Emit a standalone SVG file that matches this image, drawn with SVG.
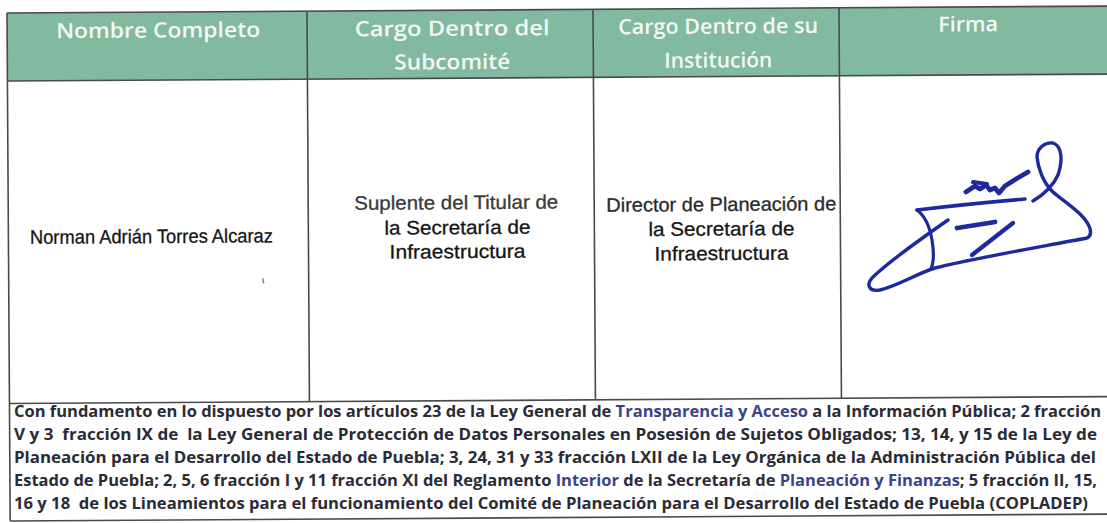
<svg xmlns="http://www.w3.org/2000/svg" width="1107" height="523" viewBox="0 0 1107 523">
  <style>
    .hdr { font-family: "Open Sans", Lato, "Liberation Sans", sans-serif; font-weight: 600; font-size: 21px; fill: #f3f8f3; text-anchor: middle; }
    .cell { font-family: "Liberation Sans", Arial, sans-serif; font-size: 19.5px; fill: #151515; stroke: #151515; stroke-width: 0.3; text-anchor: middle; }
    .foot { font-family: "Open Sans", Lato, "Liberation Sans", sans-serif; font-weight: bold; font-size: 15.2px; fill: #2b2b36; }
    .blue { fill: #39448a; }
    .rule { stroke: #4a4a4a; stroke-width: 1.6; fill: none; }
    .sig { stroke: #1d2a9e; fill: none; stroke-linecap: round; stroke-linejoin: round; }
  </style>
  <rect width="1107" height="523" fill="#ffffff"/>
  <g id="table" transform="rotate(-0.36 7 13)">
    <rect id="header-band" x="7" y="13" width="1120" height="68" fill="#82b9a1"/>
    <g id="grid">
      <line class="rule" x1="7" y1="13" x2="1127" y2="13"/>
      <line class="rule" x1="7" y1="81" x2="1127" y2="81"/>
      <line class="rule" x1="7" y1="403.5" x2="1127" y2="403.5" stroke-width="2"/>
      <line class="rule" x1="7" y1="521" x2="1127" y2="521"/>
      <line class="rule" x1="7" y1="13" x2="7" y2="521"/>
      <line class="rule" x1="307" y1="13" x2="307" y2="403.5"/>
      <line class="rule" x1="593" y1="13" x2="593" y2="403.5"/>
      <line class="rule" x1="839" y1="13" x2="839" y2="403.5"/>
    </g>
    <g id="h-nombre"><text class="hdr" x="158" y="38.5" textLength="204" lengthAdjust="spacingAndGlyphs">Nombre Completo</text></g>
    <g id="h-cargo-sub">
      <text class="hdr" x="452" y="38.5" textLength="195" lengthAdjust="spacingAndGlyphs">Cargo Dentro del</text>
      <text class="hdr" x="452" y="72" textLength="116" lengthAdjust="spacingAndGlyphs">Subcomité</text>
    </g>
    <g id="h-cargo-inst">
      <text class="hdr" x="718" y="38" textLength="200" lengthAdjust="spacingAndGlyphs">Cargo Dentro de su</text>
      <text class="hdr" x="718" y="72" textLength="108" lengthAdjust="spacingAndGlyphs">Institución</text>
    </g>
    <g id="h-firma"><text class="hdr" x="968" y="37.5" textLength="60" lengthAdjust="spacingAndGlyphs">Firma</text></g>

    <g id="c-nombre"><text class="cell" x="150" y="244" textLength="243" lengthAdjust="spacingAndGlyphs">Norman Adrián Torres Alcaraz</text></g>
    <g id="c-cargo-sub">
      <text class="cell" x="455" y="212" textLength="204" lengthAdjust="spacingAndGlyphs" style="fill:#3a3a3a;stroke:#3a3a3a">Suplente del Titular de</text>
      <text class="cell" x="456" y="237" textLength="146" lengthAdjust="spacingAndGlyphs">la Secretaría de</text>
      <text class="cell" x="456" y="261" textLength="136" lengthAdjust="spacingAndGlyphs">Infraestructura</text>
    </g>
    <g id="c-cargo-inst">
      <text class="cell" x="720" y="215.5" textLength="230" lengthAdjust="spacingAndGlyphs" style="fill:#2a2a2a;stroke:#2a2a2a">Director de Planeación de</text>
      <text class="cell" x="720" y="240" textLength="146" lengthAdjust="spacingAndGlyphs">la Secretaría de</text>
      <text class="cell" x="720" y="264.5" textLength="134" lengthAdjust="spacingAndGlyphs">Infraestructura</text>
    </g>
    <line x1="261" y1="280" x2="262" y2="285" stroke="#b07050" stroke-width="1.5"/>
  </g>

  <g id="footer">
    <text class="foot" x="14" y="417" textLength="1087" lengthAdjust="spacingAndGlyphs" xml:space="preserve">Con fundamento en lo dispuesto por los artículos 23 de la Ley General de <tspan class="blue">Transparencia y Acceso</tspan> a la Información Pública; 2 fracción</text>
    <text class="foot" x="14" y="440" textLength="1083" lengthAdjust="spacingAndGlyphs" xml:space="preserve">V y 3  fracción IX de  la Ley General de Protección de Datos Personales en Posesión de Sujetos Obligados; 13, 14, y 15 de la Ley de</text>
    <text class="foot" x="14" y="463" textLength="1082" lengthAdjust="spacingAndGlyphs" xml:space="preserve">Planeación para el Desarrollo del Estado de Puebla; 3, 24, 31 y 33 fracción LXII de la Ley Orgánica de la Administración Pública del</text>
    <text class="foot" x="14" y="486" textLength="1083" lengthAdjust="spacingAndGlyphs" xml:space="preserve">Estado de Puebla; 2, 5, 6 fracción I y 11 fracción XI del Reglamento <tspan class="blue">Interior</tspan> de la Secretaría de <tspan class="blue">Planeación y Finanzas</tspan>; 5 fracción II, 15,</text>
    <text class="foot" x="14" y="508.5" textLength="1074" lengthAdjust="spacingAndGlyphs" xml:space="preserve">16 y 18  de los Lineamientos para el funcionamiento del Comité de Planeación para el Desarrollo del Estado de Puebla (COPLADEP)</text>
  </g>

  <g id="signature">
    <path class="sig" stroke-width="3.4" d="M948,220 C925,236 888,262 872,278 C866,285 869,292 880,290 C898,286 918,273 935,268 C975,258 1040,247 1087,238 C1094,234 1090,224 1080,214 C1068,203 1058,197 1052,191 C1043,182 1038,168 1037,157 C1037,148 1045,142 1053,143 C1062,146 1063,160 1058,175 C1053,186 1043,195 1033,201"/>
    <path class="sig" stroke-width="3.6" d="M917,210 C950,206 990,202 1025,199"/>
    <path class="sig" stroke-width="3.2" d="M917,210 C925,216 930,228 932,240 C934,252 934,262 931,269"/>
    <path class="sig" stroke-width="4.8" d="M966,192 L975,186 L980,189 L986,185 L990,190 L995,188 L999,193 L1005,186 L1016,179 L1028,172"/>
    <path class="sig" stroke-width="4.2" d="M973,182 L987,184"/>
    <path class="sig" stroke-width="4.8" d="M957,228 C970,226 983,224 995,222"/>
    <path class="sig" stroke-width="4.2" d="M972,255 C985,245 1000,233 1013,223"/>
  </g>
</svg>
